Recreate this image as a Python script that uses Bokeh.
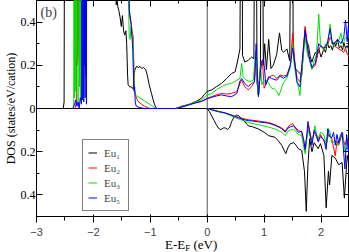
from bokeh.plotting import figure
from bokeh.models import (Span, Label, Legend, LegendItem, FixedTicker, Div,
                          CustomJSTickFormatter, LinearAxis, Range1d)
from bokeh.layouts import column
from bokeh.embed import file_html
from bokeh.resources import INLINE

# ---------------- data ----------------
# spin-up (upper panel); values above 0.5 are off-scale
eu1_up_e = [-2.53, -2.515, -2.50, -1.64, -1.62, -1.60, -1.585, -1.57, -1.55, -1.53, -1.51, -1.49,
            -1.47, -1.45, -1.43, -1.415, -1.40, -1.39, -1.36, -1.33, -1.30, -1.285, -1.27, -1.24,
            -1.21, -1.18, -1.15, -1.12, -1.08, -1.05, -1.02, -0.98, -0.95, -0.92, -0.89, -0.55,
            -0.45, -0.31, -0.20, -0.10, -0.05, 0.00, 0.08, 0.16, 0.25, 0.34, 0.43, 0.49, 0.53,
            0.575, 0.605, 0.62, 0.66, 0.72, 0.78, 0.82, 0.85, 0.875, 0.905, 0.935, 0.96, 0.985,
            1.01, 1.04, 1.08, 1.12, 1.16, 1.22, 1.27, 1.31, 1.34, 1.40, 1.45, 1.49, 1.51, 1.545,
            1.60, 1.66, 1.72, 1.75, 1.78, 1.81, 1.84, 1.87, 1.90, 1.93, 1.96, 2.00, 2.05, 2.08,
            2.11, 2.14, 2.17, 2.20, 2.23, 2.26, 2.29, 2.32, 2.35, 2.38, 2.40, 2.43, 2.46, 2.49, 2.52]
eu1_up_d = [0.0, 0.03, 2.0, 2.0, 2.0, 0.48, 0.50, 0.47, 0.45, 0.42, 0.38, 0.43,
            0.36, 0.34, 0.36, 0.30, 0.16, 0.11, 0.10, 0.10, 0.09, 0.16, 0.18, 0.195,
            0.19, 0.195, 0.185, 0.19, 0.18, 0.15, 0.11, 0.07, 0.04, 0.015, 0.0, 0.0,
            0.01, 0.02, 0.032, 0.048, 0.065, 0.079, 0.086, 0.101, 0.116, 0.139, 0.162, 0.17, 0.215,
            0.276, 2.0, 0.246, 0.215, 0.223, 0.238, 0.23, 2.0, 0.12, 0.07, 0.2, 2.0, 0.2,
            0.3, 0.18, 0.32, 0.185, 0.2, 0.25, 0.35, 0.27, 0.26, 0.276, 0.22, 2.0, 0.27, 0.185,
            0.17, 0.154, 0.368, 0.31, 0.291, 0.24, 0.215, 0.24, 0.26, 0.25, 0.276, 0.238, 0.276, 0.26,
            0.306, 0.28, 0.291, 0.27, 0.306, 0.29, 0.322, 0.28, 0.291, 0.27, 0.306, 0.28, 0.291, 0.27, 0.30]

eu2_up_e = [-2.32, -2.30, -2.294, -2.288, -2.282, -2.276, -2.27, -2.264, -2.258, -2.252, -2.246,
            -1.40, -1.375, -1.36, -1.34, -1.32, -1.30, -1.29, -1.28, -1.26, -1.22, -1.16, -1.10,
            -1.05, -1.00, -0.55, -0.45, -0.31, -0.20, -0.10, 0.00, 0.08, 0.16, 0.25, 0.34, 0.43,
            0.52, 0.575, 0.605, 0.66, 0.72, 0.78, 0.83, 0.86, 0.89, 0.93, 0.97, 1.00, 1.05, 1.10,
            1.16, 1.22, 1.28, 1.34, 1.40, 1.46, 1.50, 1.545, 1.58, 1.63, 1.66, 1.72, 1.78, 1.84,
            1.90, 1.96, 1.99, 2.05, 2.11, 2.16, 2.23, 2.29, 2.35, 2.40, 2.43, 2.46, 2.50]
eu2_up_d = [0.0, 0.03, 2.0, 0.2, 2.0, 0.25, 2.0, 0.3, 2.0, 0.22, 2.0,
            2.0, 0.48, 0.42, 0.40, 0.36, 0.33, 0.2, 0.09, 0.06, 0.035, 0.02, 0.01,
            0.004, 0.0, 0.0, 0.006, 0.018, 0.026, 0.033, 0.048, 0.055, 0.063, 0.07, 0.067, 0.07,
            0.078, 0.116, 0.131, 0.101, 0.086, 0.101, 0.124, 0.223, 0.063, 0.17, 0.223, 0.094, 0.124, 0.147,
            0.155, 0.139, 0.155, 0.15, 0.155, 0.2, 0.35, 0.2, 0.139, 0.124, 0.185, 0.38, 0.246, 0.185,
            0.2, 0.27, 0.29, 0.276, 0.29, 0.33, 0.29, 0.28, 0.27, 0.26, 0.28, 0.25, 0.24]

eu3_up_e = [-2.36, -2.345, -2.34, -2.334, -2.328, -2.322, -2.316, -2.31, -2.304, -2.298, -2.292,
            -2.285, -2.27, -2.258, -2.252, -2.246, -2.24, -2.234, -2.228, -2.222, -2.216, -2.21,
            -2.204, -1.40, -1.38, -1.37, -1.355, -1.34, -1.32, -1.30, -1.29, -1.28, -1.25, -1.22,
            -1.16, -1.10, -1.04, -0.97, -0.90, -0.55, -0.45, -0.31, -0.20, -0.10, 0.00, 0.08, 0.16,
            0.25, 0.34, 0.43, 0.52, 0.575, 0.605, 0.63, 0.69, 0.75, 0.81, 0.85, 0.87, 0.89, 0.91,
            0.935, 0.96, 0.99, 1.02, 1.05, 1.08, 1.13, 1.18, 1.22, 1.26, 1.30, 1.34, 1.40, 1.46,
            1.50, 1.53, 1.57, 1.60, 1.63, 1.66, 1.72, 1.76, 1.80, 1.84, 1.88, 1.92, 1.96, 1.99,
            2.02, 2.05, 2.08, 2.11, 2.13, 2.16, 2.19, 2.23, 2.26, 2.29, 2.32, 2.35, 2.38, 2.40,
            2.43, 2.46, 2.50]
eu3_up_d = [0.0, 0.02, 2.0, 0.05, 2.0, 0.15, 2.0, 0.08, 2.0, 0.25, 2.0,
            0.03, 0.02, 0.02, 2.0, 0.1, 2.0, 0.2, 2.0, 0.05, 2.0, 0.3,
            2.0, 2.0, 0.45, 0.33, 0.32, 0.38, 0.34, 0.30, 0.16, 0.08, 0.06, 0.055,
            0.045, 0.035, 0.025, 0.012, 0.0, 0.0, 0.008, 0.02, 0.03, 0.04, 0.063, 0.07, 0.086,
            0.101, 0.112, 0.116, 0.131, 0.139, 0.208, 0.147, 0.131, 0.124, 0.131, 0.268, 0.2, 0.063, 0.09,
            0.2, 0.11, 0.13, 0.124, 0.13, 0.116, 0.094, 0.09, 0.08, 0.06, 0.09, 0.12, 0.14, 0.19,
            0.3, 0.2, 0.13, 0.1, 0.06, 0.17, 0.33, 0.25, 0.22, 0.18, 0.22, 0.25, 0.436, 0.30,
            0.28, 0.27, 0.30, 0.29, 0.33, 0.39, 0.30, 0.29, 0.31, 0.30, 0.32, 0.35, 0.30, 0.31,
            0.33, 0.32, 0.35]

eu5_up_e = [-2.36, -2.33, -2.31, -2.29, -2.27, -2.25, -2.23, -2.21, -2.20, -2.194, -2.188, -2.182,
            -2.176, -2.17, -2.164, -2.158, -2.152, -2.146, -2.14, -2.134, -2.128, -2.122, -2.116,
            -1.40, -1.37, -1.34, -1.32, -1.31, -1.295, -1.285, -1.275, -1.265, -1.25, -1.20, -1.10,
            -0.55, -0.45, -0.31, -0.20, -0.10, 0.00, 0.08, 0.16, 0.25, 0.34, 0.43, 0.52, 0.575,
            0.605, 0.66, 0.72, 0.78, 0.83, 0.86, 0.90, 0.95, 0.99, 1.03, 1.08, 1.13, 1.22, 1.28,
            1.34, 1.40, 1.46, 1.50, 1.545, 1.58, 1.63, 1.66, 1.72, 1.78, 1.84, 1.90, 1.96, 1.99,
            2.05, 2.11, 2.16, 2.20, 2.23, 2.29, 2.35, 2.40, 2.43, 2.46, 2.48, 2.50]
eu5_up_d = [0.0, 0.02, 0.04, 0.01, 0.03, 0.0, 0.05, 0.02, 2.0, 0.04, 2.0, 0.1,
            2.0, 0.03, 2.0, 0.2, 2.0, 0.05, 2.0, 0.15, 2.0, 0.02, 2.0,
            2.0, 0.46, 0.40, 0.32, 0.28, 0.14, 0.08, 0.10, 0.03, 0.012, 0.005, 0.0,
            0.0, 0.007, 0.018, 0.027, 0.033, 0.045, 0.052, 0.058, 0.063, 0.058, 0.055, 0.07, 0.127,
            0.139, 0.116, 0.101, 0.116, 0.124, 0.3, 0.055, 0.215, 0.23, 0.11, 0.147, 0.139, 0.131, 0.15,
            0.14, 0.15, 0.2, 0.28, 0.2, 0.12, 0.1, 0.19, 0.36, 0.25, 0.19, 0.21, 0.3, 0.29,
            0.28, 0.3, 0.37, 0.30, 0.3, 0.32, 0.3, 0.33, 0.41, 0.31, 0.38, 0.33]

# spin-down (lower panel), magnitudes
eu1_dn_e = [-0.005, 0.04, 0.08, 0.12, 0.16, 0.20, 0.24, 0.28, 0.32, 0.36, 0.39, 0.43, 0.47, 0.52,
            0.56, 0.62, 0.72, 0.80, 0.90, 1.00, 1.08, 1.19, 1.25, 1.31, 1.38, 1.42, 1.46, 1.52,
            1.56, 1.60, 1.66, 1.71, 1.74, 1.77, 1.80, 1.84, 1.88, 1.95, 1.99, 2.05, 2.09, 2.13,
            2.15, 2.19, 2.25, 2.31, 2.37, 2.41, 2.46, 2.51]
eu1_dn_d = [0.0, 0.015, 0.035, 0.055, 0.075, 0.092, 0.098, 0.09, 0.09, 0.097, 0.09, 0.06, 0.04, 0.03,
            0.035, 0.05, 0.08, 0.085, 0.095, 0.11, 0.126, 0.133, 0.15, 0.171, 0.209, 0.18, 0.163, 0.158,
            0.17, 0.186, 0.194, 0.293, 0.476, 0.26, 0.14, 0.2, 0.158, 0.186, 0.163, 0.217, 0.46, 0.29,
            0.354, 0.217, 0.23, 0.26, 0.25, 0.415, 0.217, 0.29]

eu2_dn_e = [0.0, 0.13, 0.31, 0.43, 0.55, 0.72, 0.90, 1.08, 1.19, 1.31, 1.37, 1.42, 1.46, 1.50, 1.54,
            1.60, 1.66, 1.72, 1.75, 1.78, 1.84, 1.88, 1.95, 1.99, 2.05, 2.09, 2.13, 2.19, 2.25, 2.28,
            2.31, 2.37, 2.42, 2.46, 2.50]
eu2_dn_d = [0.0, 0.008, 0.02, 0.03, 0.042, 0.052, 0.058, 0.065, 0.075, 0.09, 0.105, 0.085, 0.075, 0.07, 0.085,
            0.1, 0.11, 0.2, 0.13, 0.08, 0.15, 0.11, 0.15, 0.12, 0.15, 0.17, 0.12, 0.14, 0.22, 0.15,
            0.17, 0.12, 0.17, 0.14, 0.16]

eu3_dn_e = [0.0, 0.13, 0.31, 0.43, 0.55, 0.72, 0.90, 1.08, 1.19, 1.31, 1.37, 1.42, 1.46, 1.52, 1.60,
            1.66, 1.72, 1.75, 1.78, 1.84, 1.89, 1.92, 1.95, 1.99, 2.05, 2.09, 2.12, 2.16, 2.19, 2.25,
            2.30, 2.34, 2.38, 2.42, 2.46, 2.50]
eu3_dn_d = [0.0, 0.01, 0.022, 0.035, 0.048, 0.065, 0.075, 0.086, 0.095, 0.11, 0.126, 0.105, 0.1, 0.095, 0.12,
            0.125, 0.21, 0.14, 0.1, 0.16, 0.08, 0.12, 0.14, 0.11, 0.12, 0.17, 0.09, 0.11, 0.16, 0.15,
            0.17, 0.12, 0.11, 0.2, 0.18, 0.2]

eu5_dn_e = [0.0, 0.07, 0.13, 0.20, 0.31, 0.43, 0.55, 0.62, 0.72, 0.80, 0.90, 1.00, 1.08, 1.19, 1.25,
            1.31, 1.37, 1.42, 1.46, 1.52, 1.56, 1.60, 1.66, 1.70, 1.72, 1.75, 1.77, 1.80, 1.84, 1.88,
            1.92, 1.95, 1.99, 2.03, 2.05, 2.09, 2.12, 2.15, 2.19, 2.22, 2.25, 2.28, 2.31, 2.34, 2.37,
            2.42, 2.45, 2.48, 2.50]
eu5_dn_d = [0.0, 0.005, 0.01, 0.015, 0.02, 0.032, 0.043, 0.05, 0.056, 0.058, 0.062, 0.065, 0.068, 0.078, 0.085,
            0.094, 0.11, 0.09, 0.085, 0.08, 0.095, 0.11, 0.105, 0.15, 0.19, 0.12, 0.06, 0.11, 0.17, 0.1,
            0.12, 0.155, 0.13, 0.14, 0.145, 0.19, 0.095, 0.13, 0.135, 0.11, 0.17, 0.12, 0.16, 0.13, 0.11,
            0.28, 0.12, 0.2, 0.15]

series_names = ["Eu\u2081", "Eu\u2082", "Eu\u2083", "Eu\u2085"]
series_colors = ["black", "#ff0000", "#00e000", "#0000ff"]
x_ticks = [-3, -2, -1, 0, 1, 2]
y_ticks = [-0.4, -0.2, 0.0, 0.2, 0.4]

# ---------------- figure ----------------
SERIF = "Liberation Serif"
p = figure(width=349, height=238, output_backend="svg", toolbar_location=None,
           x_range=Range1d(-3, 2.5), y_range=Range1d(-0.5, 0.5),
           min_border_left=20, min_border_right=0, min_border_top=0, min_border_bottom=14)
p.margin = 0
p.background_fill_color = "white"
p.border_fill_color = "white"
p.outline_line_color = "black"
p.outline_line_width = 1
p.grid.visible = False

xt = FixedTicker(ticks=x_ticks, minor_ticks=[-2.5, -1.5, -0.5, 0.5, 1.5, 2.5])
yt = FixedTicker(ticks=y_ticks, minor_ticks=[-0.5, -0.3, -0.1, 0.1, 0.3, 0.5])
yfmt = CustomJSTickFormatter(code="return (Math.abs(tick) < 1e-9) ? '0' : Math.abs(tick).toFixed(1);")

for ax in p.xaxis:
    ax.ticker = xt
for ax in p.yaxis:
    ax.ticker = yt
    ax.formatter = yfmt

top_ax = LinearAxis(ticker=xt)
right_ax = LinearAxis(ticker=yt)
p.add_layout(top_ax, "above")
p.add_layout(right_ax, "right")

for ax in [p.xaxis[0], p.yaxis[0], top_ax, right_ax]:
    ax.major_tick_in = 6
    ax.major_tick_out = 0
    ax.minor_tick_in = 3
    ax.minor_tick_out = 0
    ax.axis_line_color = "black"
    ax.major_tick_line_color = "black"
    ax.minor_tick_line_color = "black"
    ax.major_label_text_font = SERIF
    ax.major_label_text_font_size = "12px"
    ax.major_label_text_color = "black"
for ax in [top_ax, right_ax]:
    ax.major_label_text_font_size = "1px"
    ax.major_label_text_color = None
    ax.major_label_standoff = 0
    ax.axis_line_color = None
p.xaxis[0].major_label_standoff = 0
p.yaxis[0].major_label_standoff = 1

yax = p.yaxis[0]
yax.axis_label = "DOS (states/eV/cation)"
yax.axis_label_text_font = SERIF
yax.axis_label_text_font_size = "12px"
yax.axis_label_text_font_style = "normal"
yax.axis_label_text_color = "black"
yax.axis_label_standoff = 0

# reference lines
p.add_layout(Span(location=0, dimension="width", line_color="black", line_width=1, level="underlay"))
p.add_layout(Span(location=0, dimension="height", line_color="#555555", line_width=1, level="underlay"))

ups = [(eu1_up_e, eu1_up_d), (eu2_up_e, eu2_up_d), (eu3_up_e, eu3_up_d), (eu5_up_e, eu5_up_d)]
dns = [(eu1_dn_e, eu1_dn_d), (eu2_dn_e, eu2_dn_d), (eu3_dn_e, eu3_dn_d), (eu5_dn_e, eu5_dn_d)]
items = []
for name, col, (ue, ud), (de, dd) in zip(series_names, series_colors, ups, dns):
    r = p.line(ue, ud, line_color=col, line_width=1)
    p.line(de, [-v for v in dd], line_color=col, line_width=1)
    items.append(LegendItem(label=name, renderers=[r]))

legend = Legend(items=items, location=(46, 5), orientation="vertical")
legend.label_text_font = SERIF
legend.label_text_font_size = "11px"
legend.border_line_color = "black"
legend.border_line_width = 1
legend.background_fill_color = "white"
legend.background_fill_alpha = 1
legend.padding = 5
legend.spacing = 0
legend.margin = 0
legend.glyph_width = 9
legend.glyph_height = 15
legend.label_height = 15
legend.label_standoff = 7
legend.label_width = 19
p.add_layout(legend)

# panel label
p.add_layout(Label(x=-3, y=0.5, x_offset=4, y_offset=-4, text="(b)", text_font=SERIF,
                   text_font_size="14px", text_baseline="top", text_align="left"))

# x axis label E-E_F (eV) as HTML below the figure
xlabel = Div(
    text=('<div style="position:relative;left:165px;top:-1px;white-space:nowrap;'
          'font-family:\'Liberation Serif\',serif;font-size:13px;line-height:12px;color:black">'
          'E-E<span style="font-size:9px;position:relative;top:2px">F</span> (eV)</div>'),
    width=349, height=14, margin=0)

layout = column(p, xlabel, spacing=0)

open("out.html", "w").write(file_html(layout, INLINE))
